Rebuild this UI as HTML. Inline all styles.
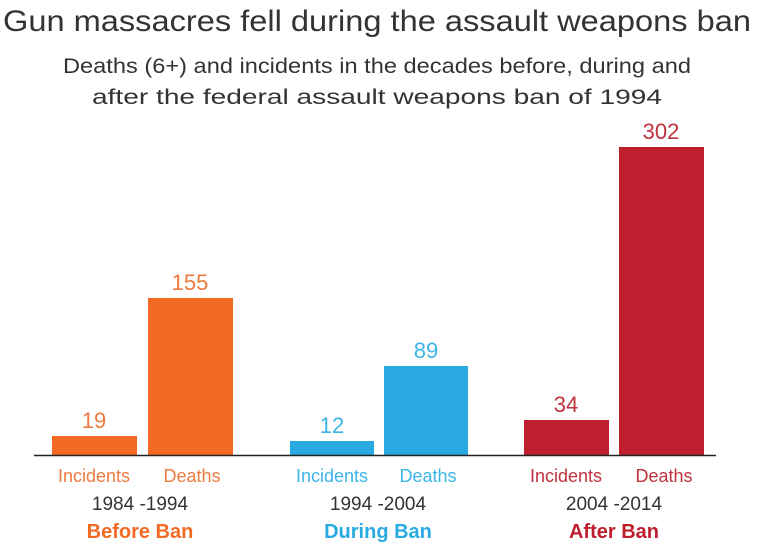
<!DOCTYPE html>
<html><head><meta charset="utf-8"><style>
body{margin:0;width:758px;height:547px;background:#fff;overflow:hidden;font-family:"Liberation Sans",sans-serif}
svg{display:block}
</style></head><body>
<svg width="758" height="547" xmlns="http://www.w3.org/2000/svg" font-family="Liberation Sans, sans-serif">
<text x="377" y="31" text-anchor="middle" font-size="30" fill="#333" textLength="748" lengthAdjust="spacingAndGlyphs">Gun massacres fell during the assault weapons ban</text>
<text x="377" y="73" text-anchor="middle" font-size="21" fill="#333" textLength="628" lengthAdjust="spacingAndGlyphs">Deaths (6+) and incidents in the decades before, during and</text>
<text x="377" y="104" text-anchor="middle" font-size="21" fill="#333" textLength="570" lengthAdjust="spacingAndGlyphs">after the federal assault weapons ban of 1994</text>
<rect x="52" y="436" width="85" height="19" fill="#F26A24"/>
<rect x="148" y="298" width="85" height="157" fill="#F26A24"/>
<rect x="290" y="441" width="84" height="14" fill="#29ABE2"/>
<rect x="384" y="366" width="84" height="89" fill="#29ABE2"/>
<rect x="524" y="420" width="85" height="35" fill="#BE1E2D"/>
<rect x="619" y="147" width="85" height="308" fill="#BE1E2D"/>
<line x1="34" y1="455.5" x2="716" y2="455.5" stroke="#222" stroke-width="1.5"/>
<g font-size="22" text-anchor="middle">
<text x="94" y="428" fill="#EE7B3F">19</text>
<text x="190" y="290" fill="#EE7B3F">155</text>
<text x="332" y="433" fill="#3BB5E6">12</text>
<text x="426" y="358" fill="#3BB5E6">89</text>
<text x="566" y="412" fill="#C0323D">34</text>
<text x="661" y="139" fill="#C0323D">302</text>
</g>
<g font-size="18" text-anchor="middle">
<text x="94" y="482" fill="#EE7B3F">Incidents</text>
<text x="192" y="482" fill="#EE7B3F">Deaths</text>
<text x="332" y="482" fill="#3BB5E6">Incidents</text>
<text x="428" y="482" fill="#3BB5E6">Deaths</text>
<text x="566" y="482" fill="#C0323D">Incidents</text>
<text x="664" y="482" fill="#C0323D">Deaths</text>
</g>
<g font-size="19" text-anchor="middle" fill="#333">
<text x="140" y="510">1984 -1994</text>
<text x="378" y="510">1994 -2004</text>
<text x="614" y="510">2004 -2014</text>
</g>
<g font-size="20" font-weight="bold" text-anchor="middle">
<text x="140" y="538" fill="#F26A24">Before Ban</text>
<text x="378" y="538" fill="#29ABE2">During Ban</text>
<text x="614" y="538" fill="#BE1E2D">After Ban</text>
</g>
</svg>
</body></html>
